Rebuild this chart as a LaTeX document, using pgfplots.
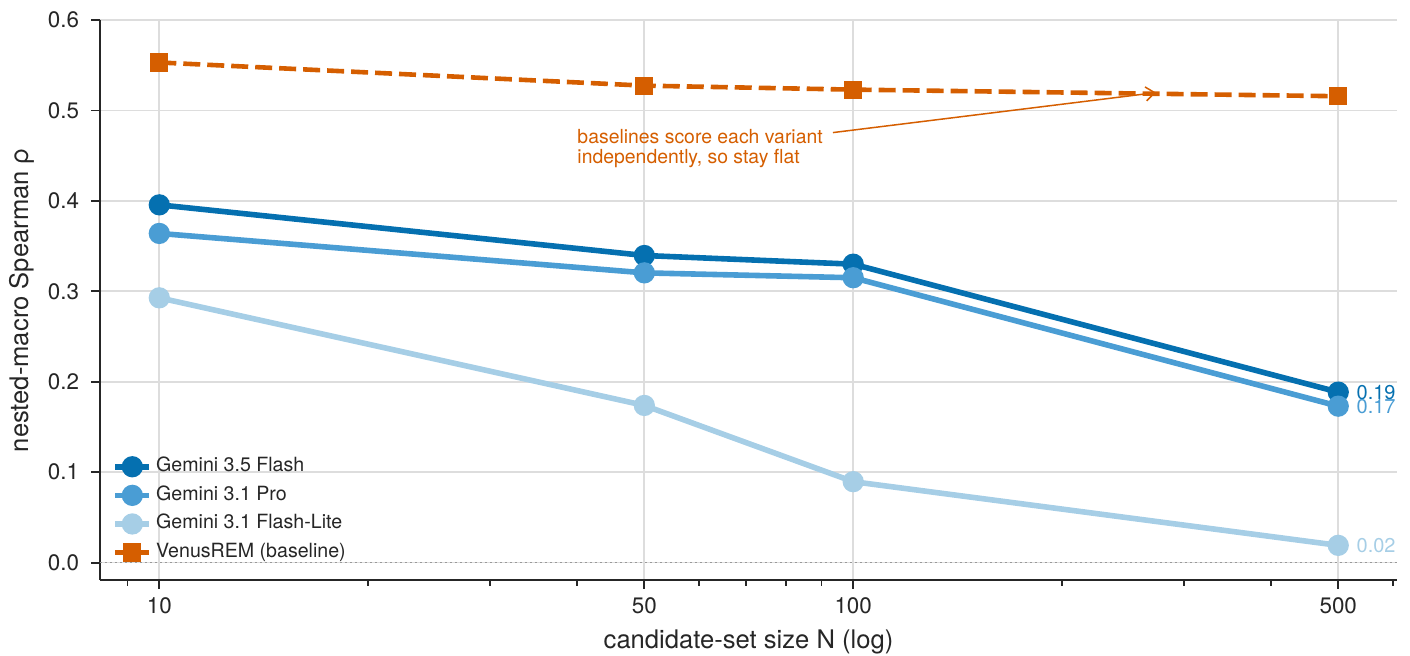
\documentclass[border=0pt]{standalone}
\usepackage{fontspec}
\setmainfont{TeX Gyre Heros}
\usepackage{pgfplots}
\pgfplotsset{compat=1.18}
\usetikzlibrary{arrows.meta}
\definecolor{cFlash}{HTML}{0570B0}
\definecolor{cPro}{HTML}{4A9DD4}
\definecolor{cLite}{HTML}{A6CEE6}
\definecolor{cVenus}{HTML}{D55E00}
\definecolor{cGrid}{HTML}{DDDDDD}
\definecolor{cAx}{HTML}{262626}
\begin{document}
\begin{tikzpicture}
\useasboundingbox (0,0) rectangle (705pt,328pt);
\begin{axis}[
  at={(50pt,38pt)}, anchor=south west,
  scale only axis, width=648.5pt, height=280pt,
  xmode=log, xmin=8.214, xmax=607.7, ymin=-0.0192, ymax=0.6,
  axis x line*=bottom, axis y line*=left,
  clip=false,
  xtick={10,50,100,500}, xticklabels={10,50,100,500},
  minor xtick={9,20,30,40,60,70,80,90,200,300,400,600},
  ytick={0,0.1,0.2,0.3,0.4,0.5,0.6},
  yticklabel style={xshift=-2.5pt, /pgf/number format/.cd, fixed, fixed zerofill, precision=1},
  xticklabel style={yshift=-1pt},
  /pgf/number format/assume math mode=true,
  tick align=outside, major tick length=4.5pt, minor tick length=3pt,
  every tick/.style={cAx, line width=0.9pt},
  axis line style={cAx, line width=1pt},
  xmajorgrids, ymajorgrids,
  major grid style={cGrid, line width=0.85pt},
  ticklabel style={font=\fontsize{11.2}{13}\selectfont, text=cAx},
  xlabel={candidate-set size N (log)},
  ylabel={nested-macro Spearman ρ},
  label style={font=\fontsize{12.8}{15}\selectfont, text=cAx},
  xlabel style={at={(axis description cs:0.5,-0.1232)}, anchor=base, inner sep=0pt},
  ylabel style={at={(axis description cs:-0.0506,0.5)}, anchor=south, inner sep=0pt},
  legend cell align=left,
  legend style={at={(axis description cs:0.0093,0.0304)}, anchor=south west,
    draw=none, fill=none, inner sep=0pt, row sep=4.3pt, column sep=2pt,
    font=\fontsize{9.8}{11.5}\selectfont, text=cAx,
    nodes={inner sep=0pt, text height=7.5pt, text depth=2.5pt}},
]
\addplot[forget plot, draw=gray!80, line width=0.6pt, dash pattern=on 1pt off 1.5pt] coordinates {(8.214,0) (607.7,0)};
\addplot[cFlash, line width=2.8pt, mark=*, mark size=3.9pt, mark options={solid, draw=none, fill=cFlash}]
  coordinates {(10,0.3956) (50,0.3396) (100,0.330) (500,0.1885)};
\addlegendentry{Gemini 3.5 Flash}
\addplot[cPro, line width=2.8pt, mark=*, mark size=3.9pt, mark options={solid, draw=none, fill=cPro}]
  coordinates {(10,0.364) (50,0.3204) (100,0.315) (500,0.173)};
\addlegendentry{Gemini 3.1 Pro}
\addplot[cLite, line width=2.8pt, mark=*, mark size=3.9pt, mark options={solid, draw=none, fill=cLite}]
  coordinates {(10,0.2928) (50,0.1738) (100,0.0895) (500,0.0191)};
\addlegendentry{Gemini 3.1 Flash-Lite}
\addplot[cVenus, line width=2.3pt, dash pattern=on 8.5pt off 3.5pt, mark=square*, mark size=3.4pt, mark options={solid, draw=none, fill=cVenus}]
  coordinates {(10,0.553) (50,0.5274) (100,0.5230) (500,0.5157)};
\addlegendentry{VenusREM (baseline)}
\node[anchor=west, inner sep=0pt, xshift=9pt, text=cFlash, font=\fontsize{10}{12}\selectfont] at (axis cs:500,0.1885) {0.19};
\node[anchor=west, inner sep=0pt, xshift=9pt, text=cPro, font=\fontsize{10}{12}\selectfont] at (axis cs:500,0.173) {0.17};
\node[anchor=west, inner sep=0pt, xshift=9pt, text=cLite, font=\fontsize{10}{12}\selectfont] at (axis cs:500,0.0191) {0.02};
\node[anchor=base west, inner sep=0pt, text=cVenus, font=\fontsize{9.7}{10}\selectfont] at (axis cs:40,0.4633) {baselines score each variant};
\node[anchor=base west, inner sep=0pt, text=cVenus, font=\fontsize{9.7}{10}\selectfont] at (axis cs:40,0.4412) {independently, so stay flat};
\draw[cVenus, line width=0.75pt, -{Straight Barb[length=4.5pt, width=7pt]}] (axis cs:93.5,0.4755) -- (axis cs:273.1,0.5197);
\end{axis}
\end{tikzpicture}
\end{document}
